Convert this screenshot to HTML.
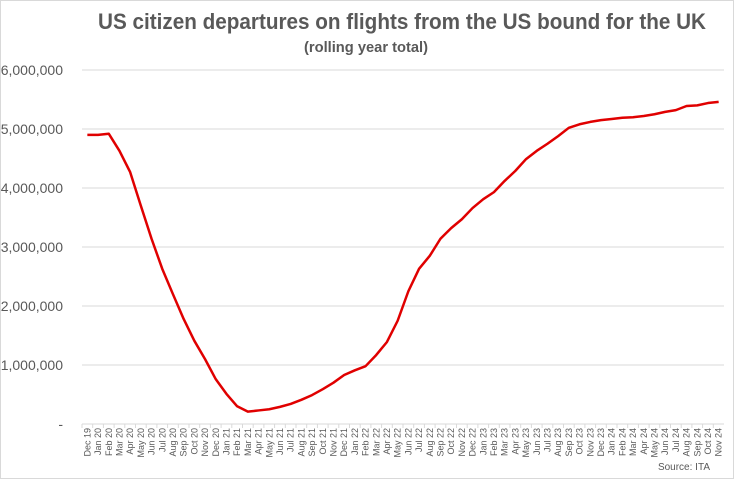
<!DOCTYPE html>
<html><head><meta charset="utf-8"><style>
body{margin:0;background:#fff}
svg{display:block;font-family:"Liberation Sans",Arial,sans-serif}
</style></head><body>
<svg id="chart" width="734" height="479" viewBox="0 0 734 479">
<rect x="0.5" y="0.5" width="733" height="478" fill="#fff" stroke="#d9d9d9"/>
<text x="402" y="29" text-anchor="middle" font-size="22" font-weight="bold" fill="#595959" textLength="608" lengthAdjust="spacingAndGlyphs">US citizen departures on flights from the US bound for the UK</text>
<text x="366" y="52" text-anchor="middle" font-size="15" font-weight="bold" fill="#595959" textLength="124" lengthAdjust="spacingAndGlyphs">(rolling year total)</text>
<g id="grid"></g><g id="yl"></g><g id="xl"></g><g id="ser"></g>
<text x="710" y="470" text-anchor="end" font-size="10" fill="#595959">Source: ITA</text>
</svg>
<script>
const categories=["Dec-19","Jan-20","Feb-20","Mar-20","Apr-20","May-20","Jun-20","Jul-20","Aug-20","Sep-20","Oct-20","Nov-20","Dec-20","Jan-21","Feb-21","Mar-21","Apr-21","May-21","Jun-21","Jul-21","Aug-21","Sep-21","Oct-21","Nov-21","Dec-21","Jan-22","Feb-22","Mar-22","Apr-22","May-22","Jun-22","Jul-22","Aug-22","Sep-22","Oct-22","Nov-22","Dec-22","Jan-23","Feb-23","Mar-23","Apr-23","May-23","Jun-23","Jul-23","Aug-23","Sep-23","Oct-23","Nov-23","Dec-23","Jan-24","Feb-24","Mar-24","Apr-24","May-24","Jun-24","Jul-24","Aug-24","Sep-24","Oct-24","Nov-24"];
const departures=[4900000,4900000,4920000,4630000,4270000,3700000,3140000,2630000,2200000,1780000,1410000,1100000,760000,510000,300000,210000,230000,250000,290000,340000,410000,490000,590000,700000,830000,910000,980000,1170000,1390000,1750000,2250000,2630000,2850000,3140000,3320000,3470000,3660000,3810000,3930000,4120000,4290000,4490000,4630000,4750000,4880000,5020000,5080000,5120000,5150000,5170000,5190000,5200000,5220000,5250000,5290000,5320000,5390000,5400000,5440000,5460000];
const yTicks=[0,1000000,2000000,3000000,4000000,5000000,6000000];
const yTickLabels=["-","1,000,000","2,000,000","3,000,000","4,000,000","5,000,000","6,000,000"];
const NS="http://www.w3.org/2000/svg";
const X0=82,X1=724,Y0=424,Y1=70,YMAX=6000000;
const bw=(X1-X0)/categories.length;
const xs=i=>X0+(i+0.5)*bw;
const ys=v=>Y0-(v/YMAX)*(Y0-Y1);
function mk(t,a,p){const e=document.createElementNS(NS,t);for(const k in a)e.setAttribute(k,a[k]);p.appendChild(e);return e;}
const grid=document.getElementById('grid'),yl=document.getElementById('yl'),xl=document.getElementById('xl'),ser=document.getElementById('ser');
yTicks.forEach((v,i)=>{
  if(v>0){const g=mk('line',{x1:X0,x2:X1,y1:ys(v),y2:ys(v),stroke:'#d9d9d9','stroke-width':1},grid);
  
  }
  const t=mk('text',{x:63,y:ys(v)+5,'text-anchor':'end','font-size':14,fill:'#595959'},yl);
  t.textContent=yTickLabels[i];
  
  
});
const ax=mk('line',{x1:X0,x2:X1,y1:Y0,y2:Y0,stroke:'#d9d9d9','stroke-width':1},grid);


categories.forEach((c,i)=>{
  const tk=mk('line',{x1:X0+i*bw,x2:X0+i*bw,y1:Y0,y2:Y0+4,stroke:'#d9d9d9'},grid);
  
  
  const x=xs(i)+3,y=Y0+4;
  const t=mk('text',{x:x,y:y,'text-anchor':'end','font-size':9,fill:'#595959',transform:`rotate(-90 ${x} ${y})`},xl);
  t.textContent=c.replace('-',' ');
  
  
});
const p=mk('polyline',{points:departures.map((v,i)=>xs(i)+','+ys(v)).join(' '),fill:'none',stroke:'#e00000','stroke-width':2.5,'stroke-linejoin':'round'},ser);


</script>
</body></html>
